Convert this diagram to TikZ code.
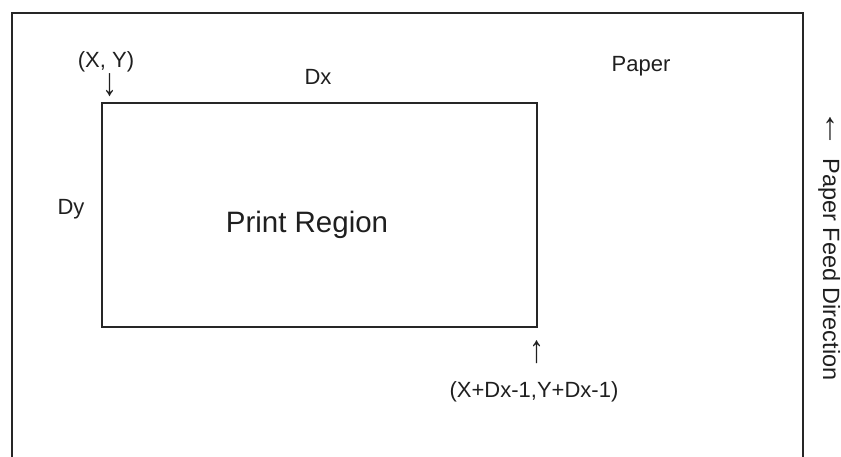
\documentclass[tikz,border=0pt]{standalone}
\usepackage{fontspec}
\setmainfont{Liberation Sans}
\begin{document}
\begin{tikzpicture}[x=1pt,y=-1pt,
  lbl/.style={inner sep=0pt,anchor=base,text=black!88,font=\fontsize{22}{26}\selectfont},
  big/.style={inner sep=0pt,anchor=base,text=black!88,font=\fontsize{29.5}{34}\selectfont},
  glyph/.style={inner sep=0pt,anchor=center,text=black!88,font=\fontsize{30}{34}\selectfont},
  frame/.style={draw=black!85,line width=1.6pt}]
\useasboundingbox (0,0) rectangle (841,457);
\clip (0,0) rectangle (841,457);
% paper outline (bottom edge off the picture)
\draw[frame] (12,470) -- (12,13) -- (803,13) -- (803,470);
% print region
\draw[frame] (102,103) rectangle (537,327);
\node[big] (print) at (307,233) {Print Region};
\node[lbl] (xy) at (106,68) {(X, Y)};
\node[glyph] (down) at (110,85) {\scalebox{1}[1.3]{↓}};
\node[lbl] (dx) at (318,85) {Dx};
\node[lbl] (paper) at (641,72) {Paper};
\node[lbl] (dy) at (71,215) {Dy};
\node[glyph] (up) at (537,352) {\scalebox{1}[1.3]{↑}};
\node[lbl] (br) at (534,397) {(X+Dx-1,Y+Dx-1)};
\node[glyph,rotate=-90] (feedarrow) at (830,129) {\scalebox{1.3}[1]{←}};
\node[lbl,rotate=-90,font=\fontsize{23.5}{28}\selectfont] (feed) at (823,269.5) {Paper Feed Direction};
\end{tikzpicture}
\end{document}
